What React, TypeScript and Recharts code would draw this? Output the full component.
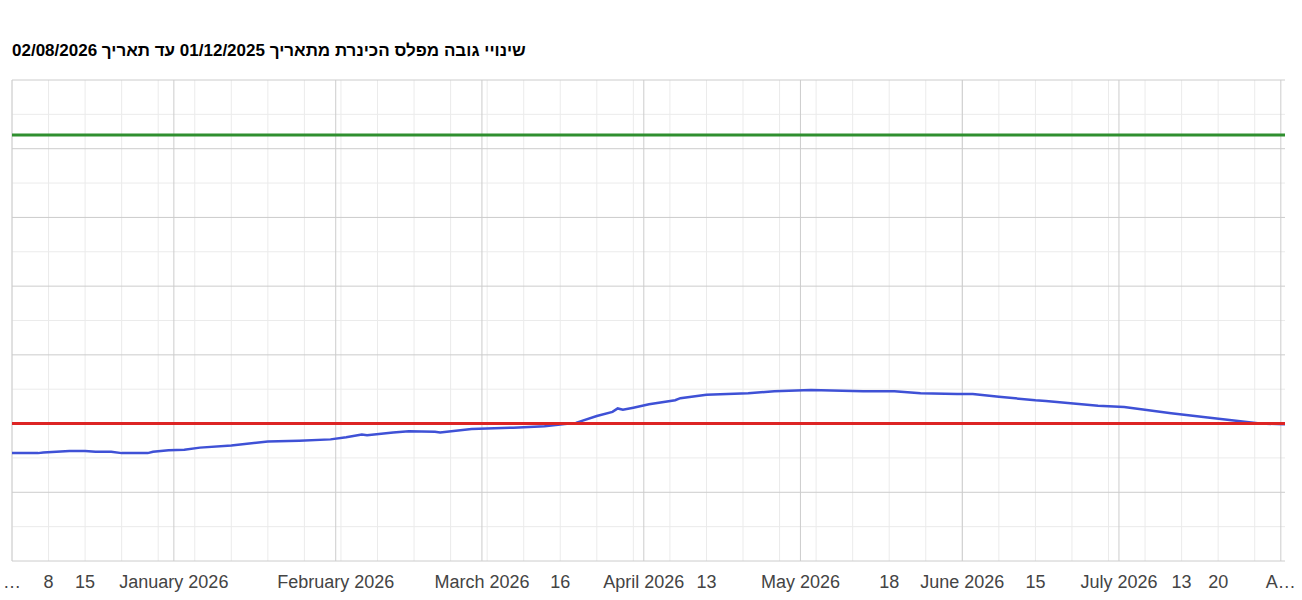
import React from "react";
import { LineChart, Line, XAxis, YAxis, ReferenceLine } from "recharts";

// Days since 01/12/2025 (Dec 1 2025 = 0) and Kinneret level (m)
const days = [
  0, 5, 6, 11, 14, 16, 19, 21, 26, 27, 30, 33, 36, 42, 49, 55, 61, 64, 67, 68,
  73, 76, 81, 82, 88, 96, 102, 108, 112, 115, 116, 117, 119, 122, 127, 128, 133,
  141, 146, 153, 163, 169, 174, 181, 184, 189, 196, 198, 208, 213, 222, 229, 239,
  243.8,
];
const levels = [
  -213.43, -213.43, -213.42, -213.4, -213.4, -213.41, -213.41, -213.43, -213.43,
  -213.41, -213.39, -213.38, -213.35, -213.32, -213.26, -213.25, -213.23, -213.2,
  -213.16, -213.17, -213.13, -213.11, -213.12, -213.13, -213.08, -213.06, -213.04,
  -212.99, -212.89, -212.83, -212.78, -212.8, -212.77, -212.72, -212.66, -212.63,
  -212.58, -212.56, -212.53, -212.51, -212.53, -212.53, -212.56, -212.57, -212.57,
  -212.61, -212.66, -212.67, -212.74, -212.76, -212.85, -212.91, -213.0, -213.01,
];

const upperRedLine = -208.8;
const lowerRedLine = -213.0;

const tickDays = [0, 7, 14, 31, 62, 90, 105, 121, 133, 151, 168, 182, 196, 212, 224, 231, 243];
const tickLabels = [
  "…", "8", "15", "January 2026", "February 2026", "March 2026", "16",
  "April 2026", "13", "May 2026", "18", "June 2026", "15", "July 2026", "13",
  "20", "A…",
];

const monthDays = [0, 31, 62, 90, 121, 151, 182, 212, 243];
const weekDays = Array.from({ length: 35 }, (_, i) => i * 7);
const majorLevels = [-215, -214, -213, -212, -211, -210, -209, -208];
const minorLevels = [-214.5, -213.5, -212.5, -211.5, -210.5, -209.5, -208.5];

const title = "שינויי גובה מפלס הכינרת מתאריך 01/12/2025 עד תאריך 02/08/2026";

const data = days.map((d, i) => ({
  day: d,
  level: levels[i],
  upper: upperRedLine,
  lower: lowerRedLine,
}));

const FONT = "Arial, 'Liberation Sans', sans-serif";

function Tick(props: any) {
  const { x, y, payload } = props;
  const i = tickDays.indexOf(payload.value);
  return (
    <text
      x={x}
      y={y}
      dy={19}
      textAnchor="middle"
      fontSize={18}
      fontFamily={FONT}
      fill="#444"
    >
      {tickLabels[i]}
    </text>
  );
}

export default function App() {
  return (
    <div
      style={{
        position: "absolute",
        left: 0,
        top: 0,
        width: 1302,
        height: 600,
        background: "#fff",
        fontFamily: FONT,
      }}
    >
      <div
        dir="rtl"
        style={{
          position: "absolute",
          left: 12,
          top: 41,
          display: "inline-block",
          fontSize: 17,
          lineHeight: "20px",
          fontWeight: "bold",
          color: "#000",
          whiteSpace: "nowrap",
        }}
      >
        {title}
      </div>
      <LineChart
        width={1302}
        height={600}
        data={data}
        margin={{ top: 80, right: 17, bottom: 9, left: 12 }}
      >
        <XAxis
          dataKey="day"
          type="number"
          domain={[0, 243.8]}
          ticks={tickDays}
          interval={0}
          tick={<Tick />}
          tickLine={false}
          axisLine={false}
          height={30}
          allowDataOverflow
        />
        <YAxis hide type="number" domain={[-215, -208]} allowDataOverflow />
        {weekDays.map((d) => (
          <ReferenceLine key={"w" + d} x={d} stroke="#ebebeb" strokeWidth={1} />
        ))}
        {minorLevels.map((v) => (
          <ReferenceLine key={"m" + v} y={v} stroke="#ebebeb" strokeWidth={1} />
        ))}
        {monthDays.map((d) => (
          <ReferenceLine key={"M" + d} x={d} stroke="#cccccc" strokeWidth={1} />
        ))}
        {majorLevels.map((v) => (
          <ReferenceLine key={"L" + v} y={v} stroke="#cccccc" strokeWidth={1} />
        ))}
        <Line
          type="linear"
          dataKey="level"
          stroke="#3f51d6"
          strokeWidth={2.5}
          dot={false}
          isAnimationActive={false}
        />
        <Line
          type="linear"
          dataKey="upper"
          stroke="#2f8f2f"
          strokeWidth={3}
          dot={false}
          isAnimationActive={false}
        />
        <Line
          type="linear"
          dataKey="lower"
          stroke="#dd2424"
          strokeWidth={3}
          dot={false}
          isAnimationActive={false}
        />
      </LineChart>
    </div>
  );
}
